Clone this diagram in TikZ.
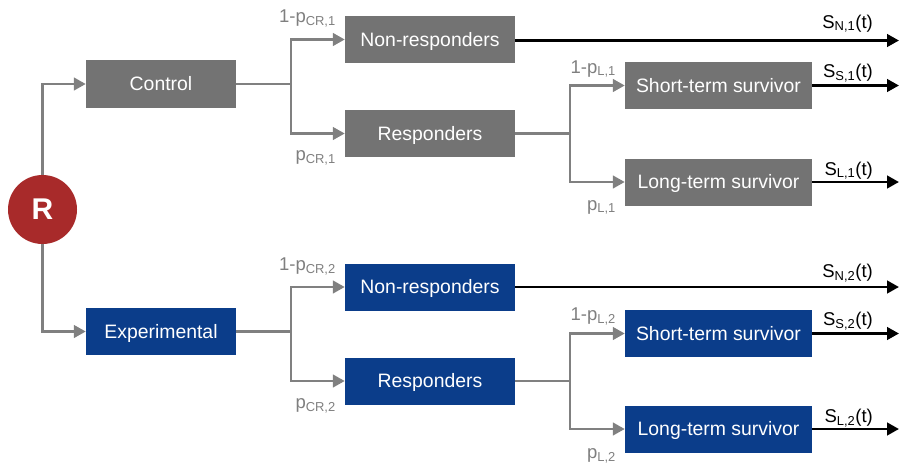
\documentclass[tikz,border=0pt]{standalone}
\usepackage{fontspec}
\setmainfont{Liberation Sans}
\usetikzlibrary{arrows.meta}
\definecolor{boxgray}{HTML}{737373}
\definecolor{boxblue}{HTML}{0B3D8A}
\definecolor{rred}{HTML}{A82A2A}
\definecolor{lgray}{HTML}{808080}
\definecolor{tgray}{HTML}{7F7F7F}
\tikzset{
  gbox/.style={rectangle, fill=boxgray, text=white, inner sep=0pt, text height=13.8pt, text depth=0pt, font=\fontsize{19.4}{22}\selectfont},
  bbox/.style={rectangle, fill=boxblue, text=white, inner sep=0pt, text height=13.8pt, text depth=0pt, font=\fontsize{19.4}{22}\selectfont},
  wide/.style={minimum width=170pt, minimum height=47pt},
  wider/.style={minimum width=187pt, minimum height=47pt},
  gline/.style={draw=lgray, line width=2.8pt},
  garrow/.style={gline, -{Triangle[length=12pt,width=12.5pt]}},
  karrow/.style={draw=black, line width=2.8pt, -{Triangle[length=12pt,width=12.5pt]}},
  plab/.style={text=tgray, anchor=base east, inner sep=0pt, font=\fontsize{18.5}{22}\selectfont},
  slab/.style={text=black, anchor=base east, inner sep=0pt, font=\fontsize{18.5}{22}\selectfont},
}
\begin{document}
\begin{tikzpicture}[x=1pt,y=-1pt]
\useasboundingbox (0,0) rectangle (899,463);
% nodes
\node[circle, fill=rred, text=white, minimum size=69pt, inner sep=0pt, font=\fontsize{30}{34}\selectfont\bfseries] (R) at (42.5,209.5) {R};
\node[gbox, minimum width=150pt, minimum height=48pt] (ctrl) at (161,84) {Control};
\node[bbox, minimum width=150pt, minimum height=47pt] (exp) at (161,331.5) {Experimental};
\node[gbox, wide] (nr1) at (430,39.5) {Non-responders};
\node[gbox, wide] (rs1) at (430,133.5) {Responders};
\node[gbox, wider] (st1) at (718.5,85.5) {Short-term survivor};
\node[gbox, wider] (lt1) at (718.5,182) {Long-term survivor};
\node[bbox, wide] (nr2) at (430,287) {Non-responders};
\node[bbox, wide] (rs2) at (430,381) {Responders};
\node[bbox, wider] (st2) at (718.5,333.5) {Short-term survivor};
\node[bbox, wider] (lt2) at (718.5,429) {Long-term survivor};
% branch coordinates
\coordinate (b1) at (291,84);
\coordinate (b2) at (291,331.5);
\coordinate (c1) at (570,133.5);
\coordinate (c2) at (570,381);
\coordinate (e1) at (899,40.5);
\coordinate (e2) at (899,85.5);
\coordinate (e3) at (899,182);
\coordinate (e4) at (899,287);
\coordinate (e5) at (899,333.5);
\coordinate (e6) at (899,429);
% connectors
\draw[garrow] (R.north) |- (ctrl.west);
\draw[garrow] (R.south) |- (exp.west);
\draw[gline] (ctrl.east) -- (b1);
\draw[garrow] (b1) |- (nr1.west);
\draw[garrow] (b1) |- (rs1.west);
\draw[gline] (exp.east) -- (b2);
\draw[garrow] (b2) |- (nr2.west);
\draw[garrow] (b2) |- (rs2.west);
\draw[gline] (rs1.east) -- (c1);
\draw[garrow] (c1) |- (st1.west);
\draw[garrow] (c1) |- (lt1.west);
\draw[gline] (rs2.east) -- (c2);
\draw[garrow] (c2) |- (st2.west);
\draw[garrow] (c2) |- (lt2.west);
\draw[karrow] (nr1.east |- e1) -- (e1);
\draw[karrow] (st1.east) -- (e2);
\draw[karrow] (lt1.east) -- (e3);
\draw[karrow] (nr2.east) -- (e4);
\draw[karrow] (st2.east) -- (e5);
\draw[karrow] (lt2.east) -- (e6);
% probability labels
\node[plab] (l1) at (336,22) {1-p\textsubscript{CR,1}};
\node[plab] (l2) at (336,160) {p\textsubscript{CR,1}};
\node[plab] (l3) at (336,270) {1-p\textsubscript{CR,2}};
\node[plab] (l4) at (336,408) {p\textsubscript{CR,2}};
\node[plab] (l5) at (616,73) {1-p\textsubscript{L,1}};
\node[plab] (l6) at (616,210) {p\textsubscript{L,1}};
\node[plab] (l7) at (616,320) {1-p\textsubscript{L,2}};
\node[plab] (l8) at (616,458) {p\textsubscript{L,2}};
% survival labels
\node[slab] (s1) at (873,28) {S\textsubscript{N,1}(t)};
\node[slab] (s2) at (873,77) {S\textsubscript{S,1}(t)};
\node[slab] (s3) at (873,175) {S\textsubscript{L,1}(t)};
\node[slab] (s4) at (873,277) {S\textsubscript{N,2}(t)};
\node[slab] (s5) at (873,325) {S\textsubscript{S,2}(t)};
\node[slab] (s6) at (873,422) {S\textsubscript{L,2}(t)};
\end{tikzpicture}
\end{document}
